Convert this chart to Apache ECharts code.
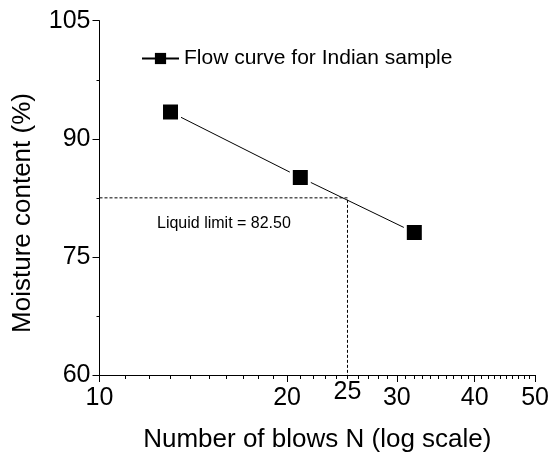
<!DOCTYPE html>
<html>
<head>
<meta charset="utf-8">
<script src="https://cdn.jsdelivr.net/npm/echarts@6/dist/echarts.min.js"></script>
<style>html,body{margin:0;padding:0;background:#fff}#c{width:552px;height:459px}</style>
</head>
<body>
<div id="c"></div>
<script>
const seriesName = 'Flow curve for Indian sample';
const blows = [13, 21, 32];
const moisture = [93.4, 85.1, 78.1];
const liquidLimitBlows = 25;
const liquidLimit = 82.5;
const xMajorTicks = [10, 20, 30, 40, 50];
const xMinorTicks = [11, 12, 13, 14, 15, 16, 17, 18, 19,
                     21, 22, 23, 24, 25, 26, 27, 28, 29,
                     31, 32, 33, 34, 35, 36, 37, 38, 39,
                     41, 42, 43, 44, 45, 46, 47, 48, 49];
const yTicks = [60, 75, 90, 105];
const xTitle = 'Number of blows N (log scale)';
const yTitle = 'Moisture content (%)';
const annotation = 'Liquid limit = 82.50';

const FONT = 'Liberation Sans, Arial, Helvetica, sans-serif';
const chart = echarts.init(document.getElementById('c'));

const option = {
  animation: false,
  backgroundColor: '#fff',
  textStyle: { fontFamily: FONT, color: '#000' },
  grid: { left: 99.5, right: 15.3, top: 20.7, bottom: 84, containLabel: false },
  legend: {
    data: [seriesName],
    left: 141, top: 48, padding: 0,
    itemWidth: 37, itemHeight: 14,
    itemStyle: { borderWidth: 0 },
    textStyle: { fontSize: 21, color: '#000', fontFamily: FONT }
  },
  xAxis: [{
    type: 'log', logBase: 10, min: 10, max: 50, position: 'bottom',
    name: xTitle, nameLocation: 'middle', nameGap: 52,
    nameTextStyle: { fontSize: 26, color: '#000', fontFamily: FONT },
    axisLine: { show: true, lineStyle: { color: '#000', width: 1 } },
    axisTick: { show: true, inside: false, length: 7, customValues: xMajorTicks, lineStyle: { color: '#000' } },
    axisLabel: { show: true, margin: 11, fontSize: 25, color: '#000', fontFamily: FONT, customValues: xMajorTicks },
    splitLine: { show: false }
  }, {
    type: 'log', logBase: 10, min: 10, max: 50, position: 'bottom',
    axisLine: { show: false },
    axisTick: { show: true, inside: false, length: 4, customValues: xMinorTicks, lineStyle: { color: '#000' } },
    axisLabel: { show: false },
    splitLine: { show: false }
  }],
  yAxis: {
    type: 'value', min: 60, max: 105, interval: 15,
    axisLine: { show: true, lineStyle: { color: '#000', width: 1 } },
    axisTick: { show: true, inside: false, length: 7, lineStyle: { color: '#000' } },
    minorTick: { show: true, splitNumber: 2, length: 3, lineStyle: { color: '#000' } },
    axisLabel: { margin: 9, fontSize: 25, color: '#000', fontFamily: FONT },
    splitLine: { show: false }, minorSplitLine: { show: false }
  },
  graphic: [{
    type: 'text', left: 157, top: 216,
    style: { text: annotation, fontSize: 16, fill: '#000', fontFamily: FONT }
  }, {
    type: 'text', x: 22.5, y: 213, rotation: Math.PI / 2,
    style: { text: yTitle, fontSize: 26, fill: '#000', fontFamily: FONT, align: 'center', verticalAlign: 'middle' }
  }],
  series: [{
    name: 'guide', type: 'line', xAxisIndex: 0, silent: true,
    data: [[xMajorTicks[0], liquidLimit], [liquidLimitBlows, liquidLimit], [liquidLimitBlows, yTicks[0]]],
    symbol: 'none',
    lineStyle: { color: '#000', width: 1, type: [3, 2] },
    z: 1
  }, {
    name: 'lbl25', type: 'scatter', xAxisIndex: 0, silent: true,
    data: [[liquidLimitBlows, yTicks[0]]],
    symbolSize: 0, itemStyle: { color: '#000', opacity: 1 },
    label: { show: true, position: 'bottom', distance: 5, formatter: String(liquidLimitBlows), fontSize: 25, color: '#000', opacity: 1, fontFamily: FONT, textBorderWidth: 0 },
    z: 5
  }, {
    name: seriesName, type: 'line', xAxisIndex: 0,
    data: blows.map((b, i) => [b, moisture[i]]),
    symbol: 'rect', symbolSize: 18,
    itemStyle: { color: '#000', borderColor: '#fff', borderWidth: 3 },
    lineStyle: { color: '#000', width: 1 },
    z: 3
  }]
};
chart.setOption(option);
</script>
</body>
</html>
